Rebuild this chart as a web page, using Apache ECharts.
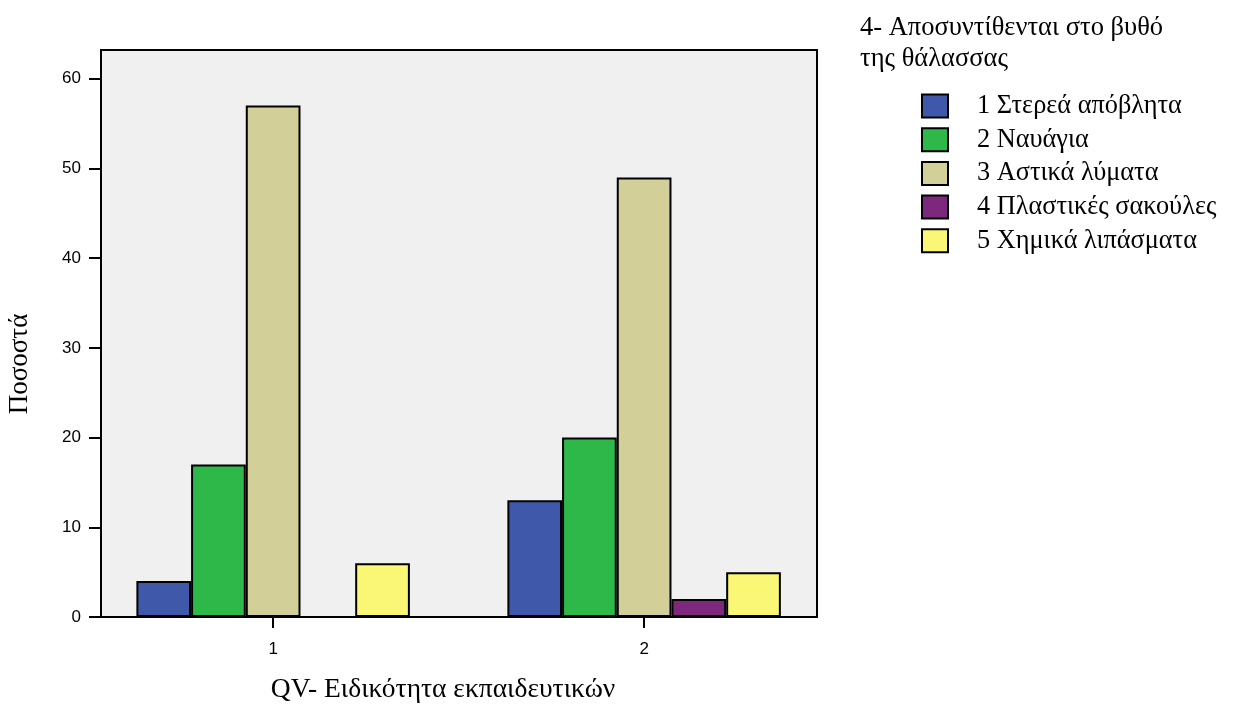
<!DOCTYPE html>
<html>
<head>
<meta charset="utf-8">
<script src="https://cdn.jsdelivr.net/npm/echarts@6/dist/echarts.min.js"></script>
<style>
html,body{margin:0;padding:0;background:#fff;}
#chart{width:1233px;height:704px;}
</style>
</head>
<body>
<div id="chart"></div>
<script>
const categories = [1, 2];
const categoryLabels = ['1', '2'];
const seriesNames = ['1 Στερεά απόβλητα', '2 Ναυάγια', '3 Αστικά λύματα', '4 Πλαστικές σακούλες', '5 Χημικά λιπάσματα'];
const seriesColors = ['#3f58aa', '#2fb84a', '#d3cf98', '#7d287d', '#fbf776'];
const stereaValues = [4, 13];
const nauagiaValues = [17, 20];
const astikaValues = [57, 49];
const plastikesValues = [null, 2];
const ximikaValues = [6, 5];
const yTicks = [0, 10, 20, 30, 40, 50, 60];
const legendTitle = '4- Αποσυντίθενται στο βυθό\nτης θάλασσας';
const xTitle = 'QV- Ειδικότητα εκπαιδευτικών';
const yTitle = 'Ποσοστά';

const allValues = [stereaValues, nauagiaValues, astikaValues, plastikesValues, ximikaValues];
const serif = '"Liberation Serif", "Times New Roman", serif';
const sans = '"Liberation Sans", Arial, sans-serif';

const chart = echarts.init(document.getElementById('chart'));
const series = seriesNames.map((name, i) => ({
  name: name,
  type: 'bar',
  barWidth: 54.7,
  barGap: '0%',
  data: categories.map((c, j) => [c, allValues[i][j]]),
  itemStyle: { color: seriesColors[i], borderColor: '#000', borderWidth: 2 },
  emphasis: { disabled: true }
}));

chart.setOption({
  animation: false,
  backgroundColor: '#fff',
  grid: {
    left: 101, top: 50, right: 416, bottom: 87,
    show: true, backgroundColor: '#f0f0f0', borderColor: '#000', borderWidth: 2
  },
  title: [
    { text: legendTitle, left: 860, top: 13, padding: 0,
      textStyle: { fontFamily: serif, fontSize: 26.5, fontWeight: 'normal', color: '#000', lineHeight: 31 } },
    { text: xTitle, left: 443, top: 676, padding: 0, textAlign: 'center',
      textStyle: { fontFamily: serif, fontSize: 27.5, fontWeight: 'normal', color: '#000' } }
  ],
  graphic: [
    { type: 'text', x: 20, y: 364, rotation: Math.PI / 2,
      style: { text: yTitle, fontFamily: serif, fontSize: 27, fill: '#000', align: 'center', verticalAlign: 'middle' } }
  ],
  legend: {
    orient: 'vertical', left: 921, top: 93, padding: 0,
    itemWidth: 26, itemHeight: 23, itemGap: 7.7,
    icon: 'rect',
    selectedMode: false,
    itemStyle: { borderColor: '#000', borderWidth: 2 },
    textStyle: { fontFamily: serif, fontSize: 26.3, color: '#000', padding: [0, 0, 0, 24] },
    data: seriesNames
  },
  xAxis: {
    type: 'value',
    min: 0.536, max: 2.466,
    splitLine: { show: false },
    axisLine: { show: true, lineStyle: { color: '#000', width: 2 } },
    axisTick: { show: true, length: 11, lineStyle: { color: '#000', width: 2 }, customValues: categories },
    axisLabel: { customValues: categories, formatter: v => categoryLabels[categories.indexOf(v)] || '',
      fontFamily: sans, fontSize: 17, color: '#000', margin: 24 }
  },
  yAxis: {
    type: 'value',
    min: 0, max: 63.2,
    splitLine: { show: false },
    axisLine: { show: true, onZero: false, lineStyle: { color: '#000', width: 2 } },
    axisTick: { show: true, length: 12, lineStyle: { color: '#000', width: 2 }, customValues: yTicks },
    axisLabel: { customValues: yTicks, fontFamily: sans, fontSize: 17, color: '#000', margin: 20 }
  },
  series: series
});
</script>
</body>
</html>
